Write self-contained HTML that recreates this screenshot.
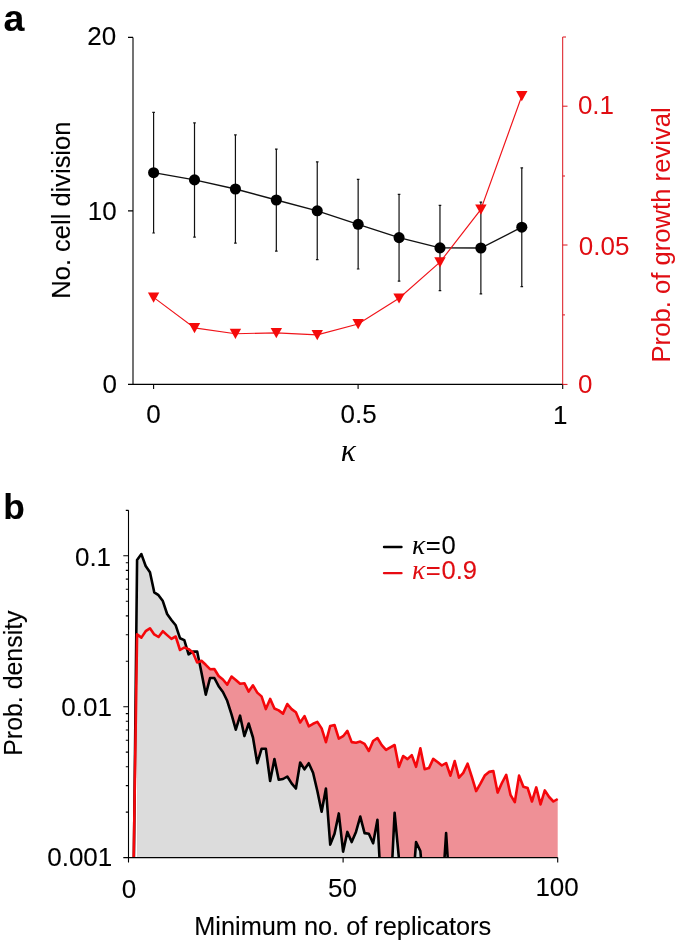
<!DOCTYPE html>
<html><head><meta charset="utf-8"><title>Figure</title>
<style>html,body{margin:0;padding:0;background:#fff;width:675px;height:940px;overflow:hidden}svg{display:block}</style>
</head><body>
<svg width="675" height="940" viewBox="0 0 675 940">
<style>text{stroke-width:0.1px}</style>
<rect width="675" height="940" fill="#fff"/>
<text x="3.4" y="31.0" font-family="Liberation Sans, Arial, sans-serif" font-weight="bold" font-size="37.5" fill="#000" stroke="#000">a</text>
<g stroke="#000" stroke-width="1.1" fill="none" shape-rendering="auto">
<path d="M133,37.4 V384.4 M128,37.4 H133 M128,210.9 H133 M128,384.4 H563"/>
<path d="M153.6,384.4 V389"/>
<path d="M358.1,384.4 V389"/>
<path d="M562.7,384.4 V389"/>
</g>
<g stroke="#dc141c" stroke-width="1.0" fill="none">
<path d="M562.7,37 V384.4 M562.7,384.4 H567.5 M562.7,245 H567.5 M562.7,106.2 H567.5 M562.7,37 H566 M562.7,176 H565 M562.7,314.9 H565"/>
</g>
<g stroke="#111" stroke-width="1.2" fill="none">
<path d="M153.60,112.4 V233.0 M152.30,112.4 H154.90 M152.30,233.0 H154.90"/>
<path d="M194.51,122.8 V237.2 M193.21,122.8 H195.81 M193.21,237.2 H195.81"/>
<path d="M235.42,134.9 V243.1 M234.12,134.9 H236.72 M234.12,243.1 H236.72"/>
<path d="M276.33,149.2 V251.2 M275.03,149.2 H277.63 M275.03,251.2 H277.63"/>
<path d="M317.24,161.9 V259.7 M315.94,161.9 H318.54 M315.94,259.7 H318.54"/>
<path d="M358.15,179.3 V269.0 M356.85,179.3 H359.45 M356.85,269.0 H359.45"/>
<path d="M399.06,194.3 V281.2 M397.76,194.3 H400.36 M397.76,281.2 H400.36"/>
<path d="M439.97,205.3 V290.6 M438.67,205.3 H441.27 M438.67,290.6 H441.27"/>
<path d="M480.88,202.2 V293.9 M479.58,202.2 H482.18 M479.58,293.9 H482.18"/>
<path d="M521.79,167.8 V286.7 M520.49,167.8 H523.09 M520.49,286.7 H523.09"/>
</g>
<polyline fill="none" stroke="#111" stroke-width="1.35" points="153.60,172.7 194.51,179.9 235.42,189.0 276.33,200.0 317.24,210.8 358.15,224.3 399.06,237.6 439.97,247.9 480.88,248.0 521.79,227.2"/>
<circle cx="153.60" cy="172.7" r="5.55" fill="#000"/>
<circle cx="194.51" cy="179.9" r="5.55" fill="#000"/>
<circle cx="235.42" cy="189.0" r="5.55" fill="#000"/>
<circle cx="276.33" cy="200.0" r="5.55" fill="#000"/>
<circle cx="317.24" cy="210.8" r="5.55" fill="#000"/>
<circle cx="358.15" cy="224.3" r="5.55" fill="#000"/>
<circle cx="399.06" cy="237.6" r="5.55" fill="#000"/>
<circle cx="439.97" cy="247.9" r="5.55" fill="#000"/>
<circle cx="480.88" cy="248.0" r="5.55" fill="#000"/>
<circle cx="521.79" cy="227.2" r="5.55" fill="#000"/>
<polyline fill="none" stroke="#f0141a" stroke-width="1.15" points="153.60,297.4 194.51,327.9 235.42,333.7 276.33,332.9 317.24,334.9 358.15,324.0 399.06,298.3 439.97,262.2 480.88,209.4 521.79,96.0"/>
<path d="M147.90,292.50 L159.30,292.50 L153.60,302.70 Z" fill="#f50a0a"/>
<path d="M188.81,323.00 L200.21,323.00 L194.51,333.20 Z" fill="#f50a0a"/>
<path d="M229.72,328.80 L241.12,328.80 L235.42,339.00 Z" fill="#f50a0a"/>
<path d="M270.63,328.00 L282.03,328.00 L276.33,338.20 Z" fill="#f50a0a"/>
<path d="M311.54,330.00 L322.94,330.00 L317.24,340.20 Z" fill="#f50a0a"/>
<path d="M352.45,319.10 L363.85,319.10 L358.15,329.30 Z" fill="#f50a0a"/>
<path d="M393.36,293.40 L404.76,293.40 L399.06,303.60 Z" fill="#f50a0a"/>
<path d="M434.27,257.30 L445.67,257.30 L439.97,267.50 Z" fill="#f50a0a"/>
<path d="M475.18,204.50 L486.58,204.50 L480.88,214.70 Z" fill="#f50a0a"/>
<path d="M516.09,91.10 L527.49,91.10 L521.79,101.30 Z" fill="#f50a0a"/>
<text x="116.15" y="45.0" font-family="Liberation Sans, Arial, sans-serif" font-size="26.0" fill="#000" stroke="#000" text-anchor="end">20</text>
<text x="116.6" y="219.55" font-family="Liberation Sans, Arial, sans-serif" font-size="26.0" fill="#000" stroke="#000" text-anchor="end">10</text>
<text x="117.05" y="393.3" font-family="Liberation Sans, Arial, sans-serif" font-size="26.0" fill="#000" stroke="#000" text-anchor="end">0</text>
<text x="153.6" y="423.25" font-family="Liberation Sans, Arial, sans-serif" font-size="26.0" fill="#000" stroke="#000" text-anchor="middle">0</text>
<text x="358.65" y="423.4" font-family="Liberation Sans, Arial, sans-serif" font-size="26.0" fill="#000" stroke="#000" text-anchor="middle">0.5</text>
<text x="560.2" y="424.1" font-family="Liberation Sans, Arial, sans-serif" font-size="26.0" fill="#000" stroke="#000" text-anchor="middle">1</text>
<text x="577.9" y="114.3" font-family="Liberation Sans, Arial, sans-serif" font-size="26.0" fill="#e00d12" stroke="none" text-anchor="start">0.1</text>
<text x="578.8" y="254.95" font-family="Liberation Sans, Arial, sans-serif" font-size="26.0" fill="#e00d12" stroke="none" text-anchor="start">0.05</text>
<text x="577.9" y="392.6" font-family="Liberation Sans, Arial, sans-serif" font-size="26.0" fill="#e00d12" stroke="none" text-anchor="start">0</text>
<text x="70.25" y="210.15" font-family="Liberation Sans, Arial, sans-serif" font-size="25.49" fill="#000" stroke="#000" text-anchor="middle" transform="rotate(-90 70.25 210.15)">No. cell division</text>
<text x="669.55" y="234.9" font-family="Liberation Sans, Arial, sans-serif" font-size="25.66" fill="#e00d12" stroke="none" text-anchor="middle" transform="rotate(-90 669.55 234.9)">Prob. of growth revival</text>
<text x="348.2" y="460.9" font-family="Liberation Serif, Times New Roman, serif" font-style="italic" font-size="31.5" fill="#000" text-anchor="middle">κ</text>
<text x="3.2" y="519.0" font-family="Liberation Sans, Arial, sans-serif" font-weight="bold" font-size="35.3" fill="#000" stroke="#000">b</text>
<defs><clipPath id="cb"><rect x="128.5" y="500" width="440" height="357.6"/></clipPath></defs>
<g clip-path="url(#cb)">
<polygon fill="#ef9096" points="137.08,862.6 137.08,634.40 141.38,637.60 145.67,631.20 149.96,628.30 154.25,634.40 158.54,637.00 162.84,631.20 167.13,635.10 171.42,638.90 175.71,636.50 180.00,650.00 184.30,647.50 188.59,649.10 192.88,652.60 197.17,662.50 201.46,660.80 205.76,664.80 210.05,669.20 214.34,669.00 218.63,676.00 222.92,679.50 227.22,684.70 231.51,676.50 235.80,680.00 240.09,683.80 244.38,683.20 248.68,691.60 252.97,685.30 257.26,692.60 261.55,696.40 265.84,709.10 270.14,698.90 274.43,708.50 278.72,710.40 283.01,713.60 287.30,704.00 291.60,709.10 295.89,712.30 300.18,722.50 304.47,716.10 308.76,726.30 313.06,723.80 317.35,721.90 321.64,728.40 325.93,742.20 330.22,725.90 334.52,725.00 338.81,738.60 343.10,736.20 347.39,730.90 351.68,742.10 355.98,742.70 360.27,741.60 364.56,743.90 368.85,751.00 373.14,741.00 377.44,738.00 381.73,745.10 386.02,749.90 390.31,747.30 394.60,745.00 398.90,766.90 403.19,756.00 407.48,759.10 411.77,755.10 416.06,766.80 420.36,748.30 424.65,769.30 428.94,768.10 433.23,758.90 437.52,762.00 441.82,765.50 446.11,763.00 450.40,775.70 454.69,761.10 458.98,777.60 463.28,772.90 467.57,763.70 471.86,777.00 476.15,791.10 480.44,783.70 484.74,775.60 489.03,771.90 493.32,771.10 497.61,792.60 501.90,783.00 506.20,774.80 510.49,794.80 514.78,802.20 519.07,775.60 523.36,786.70 527.66,788.10 531.95,801.50 536.24,787.40 540.53,804.40 544.82,790.40 549.12,797.00 553.41,801.50 557.70,799.00 557.70,862.6"/>
<polygon fill="#dcdcdc" points="137.08,862.6 137.08,559.90 141.38,554.10 145.67,566.00 149.96,572.20 154.25,592.30 158.54,595.20 162.84,601.10 167.13,614.00 171.42,620.00 175.71,625.30 180.00,638.20 184.30,640.10 188.59,654.30 192.88,651.50 197.17,651.60 201.46,672.40 205.76,694.60 210.05,678.00 214.34,678.00 218.63,686.20 222.92,692.00 227.22,700.80 231.51,714.40 235.80,729.70 240.09,715.70 244.38,736.10 248.68,723.50 252.97,737.50 257.26,763.20 261.55,748.80 265.84,748.80 270.14,781.00 274.43,759.00 278.72,779.80 283.01,779.00 287.30,776.50 291.60,783.40 295.89,788.50 300.18,762.50 304.47,769.30 308.76,763.20 313.06,772.80 317.35,791.00 321.64,811.80 325.93,788.50 330.22,844.60 334.52,833.80 338.81,813.40 343.10,851.60 347.39,831.90 351.68,842.10 355.98,831.90 360.27,816.60 364.56,833.10 368.85,833.80 373.14,843.30 377.44,819.70 381.73,900.00 386.02,900.00 390.31,900.00 394.60,812.70 398.90,858.00 403.19,900.00 407.48,900.00 411.77,900.00 416.06,842.10 420.36,851.00 424.65,900.00 428.94,900.00 433.23,900.00 437.52,900.00 441.82,900.00 446.11,833.10 450.40,900.00 450.40,862.6"/>
<polyline fill="none" stroke="#000" stroke-width="2.6" stroke-linejoin="round" points="132.79,960 137.08,559.90 141.38,554.10 145.67,566.00 149.96,572.20 154.25,592.30 158.54,595.20 162.84,601.10 167.13,614.00 171.42,620.00 175.71,625.30 180.00,638.20 184.30,640.10 188.59,654.30 192.88,651.50 197.17,651.60 201.46,672.40 205.76,694.60 210.05,678.00 214.34,678.00 218.63,686.20 222.92,692.00 227.22,700.80 231.51,714.40 235.80,729.70 240.09,715.70 244.38,736.10 248.68,723.50 252.97,737.50 257.26,763.20 261.55,748.80 265.84,748.80 270.14,781.00 274.43,759.00 278.72,779.80 283.01,779.00 287.30,776.50 291.60,783.40 295.89,788.50 300.18,762.50 304.47,769.30 308.76,763.20 313.06,772.80 317.35,791.00 321.64,811.80 325.93,788.50 330.22,844.60 334.52,833.80 338.81,813.40 343.10,851.60 347.39,831.90 351.68,842.10 355.98,831.90 360.27,816.60 364.56,833.10 368.85,833.80 373.14,843.30 377.44,819.70 381.73,900.00 386.02,900.00 390.31,900.00 394.60,812.70 398.90,858.00 403.19,900.00 407.48,900.00 411.77,900.00 416.06,842.10 420.36,851.00 424.65,900.00 428.94,900.00 433.23,900.00 437.52,900.00 441.82,900.00 446.11,833.10 450.40,900.00"/>
<polyline fill="none" stroke="#f5070b" stroke-width="2.6" stroke-linejoin="round" points="132.79,920 137.08,634.40 141.38,637.60 145.67,631.20 149.96,628.30 154.25,634.40 158.54,637.00 162.84,631.20 167.13,635.10 171.42,638.90 175.71,636.50 180.00,650.00 184.30,647.50 188.59,649.10 192.88,652.60 197.17,662.50 201.46,660.80 205.76,664.80 210.05,669.20 214.34,669.00 218.63,676.00 222.92,679.50 227.22,684.70 231.51,676.50 235.80,680.00 240.09,683.80 244.38,683.20 248.68,691.60 252.97,685.30 257.26,692.60 261.55,696.40 265.84,709.10 270.14,698.90 274.43,708.50 278.72,710.40 283.01,713.60 287.30,704.00 291.60,709.10 295.89,712.30 300.18,722.50 304.47,716.10 308.76,726.30 313.06,723.80 317.35,721.90 321.64,728.40 325.93,742.20 330.22,725.90 334.52,725.00 338.81,738.60 343.10,736.20 347.39,730.90 351.68,742.10 355.98,742.70 360.27,741.60 364.56,743.90 368.85,751.00 373.14,741.00 377.44,738.00 381.73,745.10 386.02,749.90 390.31,747.30 394.60,745.00 398.90,766.90 403.19,756.00 407.48,759.10 411.77,755.10 416.06,766.80 420.36,748.30 424.65,769.30 428.94,768.10 433.23,758.90 437.52,762.00 441.82,765.50 446.11,763.00 450.40,775.70 454.69,761.10 458.98,777.60 463.28,772.90 467.57,763.70 471.86,777.00 476.15,791.10 480.44,783.70 484.74,775.60 489.03,771.90 493.32,771.10 497.61,792.60 501.90,783.00 506.20,774.80 510.49,794.80 514.78,802.20 519.07,775.60 523.36,786.70 527.66,788.10 531.95,801.50 536.24,787.40 540.53,804.40 544.82,790.40 549.12,797.00 553.41,801.50 557.70,799.00"/>
</g>
<g stroke="#000" stroke-width="1.1" fill="none">
<path d="M128.5,510.37 V857.6 H557.7 M128.5,857.6 V862.5 M343.10,857.6 V862.5 M557.7,857.6 V862.5 M123.3,555.80 H128.5 M123.3,706.70 H128.5 M123.3,857.60 H128.5 M125.8,812.17 H128.5 M125.8,785.60 H128.5 M125.8,766.75 H128.5 M125.8,752.13 H128.5 M125.8,740.18 H128.5 M125.8,730.07 H128.5 M125.8,721.32 H128.5 M125.8,713.60 H128.5 M125.8,661.27 H128.5 M125.8,634.70 H128.5 M125.8,615.85 H128.5 M125.8,601.23 H128.5 M125.8,589.28 H128.5 M125.8,579.17 H128.5 M125.8,570.42 H128.5 M125.8,562.70 H128.5 M125.8,510.37 H128.5"/>
</g>
<text x="111.1" y="565.55" font-family="Liberation Sans, Arial, sans-serif" font-size="26.0" fill="#000" stroke="#000" text-anchor="end">0.1</text>
<text x="111.9" y="715.6" font-family="Liberation Sans, Arial, sans-serif" font-size="26.0" fill="#000" stroke="#000" text-anchor="end">0.01</text>
<text x="112.3" y="865.75" font-family="Liberation Sans, Arial, sans-serif" font-size="26.0" fill="#000" stroke="#000" text-anchor="end">0.001</text>
<text x="129.0" y="897.5" font-family="Liberation Sans, Arial, sans-serif" font-size="26.0" fill="#000" stroke="#000" text-anchor="middle">0</text>
<text x="342.45" y="897.1" font-family="Liberation Sans, Arial, sans-serif" font-size="26.0" fill="#000" stroke="#000" text-anchor="middle">50</text>
<text x="557.1" y="896.4" font-family="Liberation Sans, Arial, sans-serif" font-size="26.0" fill="#000" stroke="#000" text-anchor="middle">100</text>
<text x="342.7" y="934.5" font-family="Liberation Sans, Arial, sans-serif" font-size="25.34" fill="#000" stroke="#000" text-anchor="middle">Minimum no. of replicators</text>
<text x="22.45" y="683.1" font-family="Liberation Sans, Arial, sans-serif" font-size="24.9" fill="#000" stroke="#000" text-anchor="middle" transform="rotate(-90 22.45 683.1)">Prob. density</text>
<path d="M384,547.0 H401.5" stroke="#000" stroke-width="2.4" stroke-linecap="round"/>
<path d="M384,573.1 H401.5" stroke="#e80a12" stroke-width="2.4" stroke-linecap="round"/>
<g font-size="25.6" fill="#000" stroke="#000"><text x="412" y="553.7" font-family="Liberation Serif, serif" font-style="italic" font-size="27.5" stroke="none">κ</text><text x="425.7" y="553.7" font-family="Liberation Sans, Arial, sans-serif">=</text><text x="441.5" y="553.7" font-family="Liberation Sans, Arial, sans-serif">0</text></g>
<g font-size="25.6" fill="#e00d12" stroke="#e00d12"><text x="412" y="579.2" font-family="Liberation Serif, serif" font-style="italic" font-size="27.5" stroke="none">κ</text><text x="425.7" y="579.2" font-family="Liberation Sans, Arial, sans-serif">=</text><text x="441.5" y="579.2" font-family="Liberation Sans, Arial, sans-serif">0.9</text></g>
</svg>
</body></html>
